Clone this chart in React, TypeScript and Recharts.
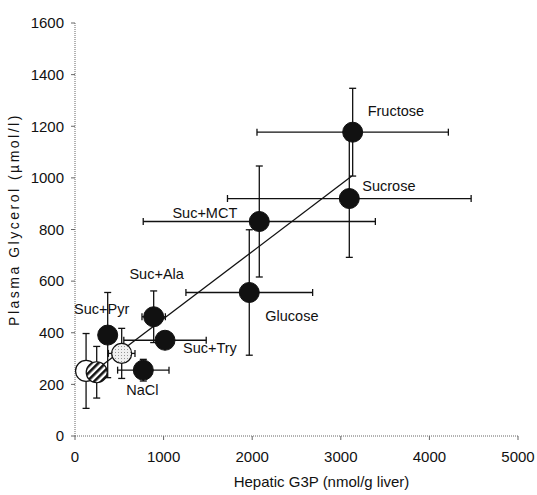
import React from 'react';
import {
  ScatterChart,
  Scatter,
  XAxis,
  YAxis,
  ErrorBar,
  LabelList,
  ReferenceLine,
} from 'recharts';

// ---- Data ----
const sugarLabels = ['Fructose', 'Sucrose', 'Suc+MCT', 'Glucose', 'Suc+Ala', 'Suc+Try', 'Suc+Pyr', 'NaCl'];
const sugarG3P = [3134, 3096, 2080, 1967, 888, 1016, 369, 771];
const sugarG3PErr = [1080, 1375, 1310, 715, 132, 465, 60, 290];
const sugarGlycerol = [1177, 920, 831, 556, 462, 371, 391, 255];
const sugarGlycerolErr = [170, 228, 215, 243, 100, 30, 165, 42];

const openG3P = [125];
const openG3PErr = [0];
const openGlycerol = [252];
const openGlycerolErr = [145];

const hatchedG3P = [245];
const hatchedG3PErr = [70];
const hatchedGlycerol = [247];
const hatchedGlycerolErr = [100];

const dottedG3P = [527];
const dottedG3PErr = [150];
const dottedGlycerol = [320];
const dottedGlycerolErr = [97];

const regressionX = [280, 3125];
const regressionY = [267, 1007];

const xTicks = [0, 1000, 2000, 3000, 4000, 5000];
const yTicks = [0, 200, 400, 600, 800, 1000, 1200, 1400, 1600];

const xTitle = 'Hepatic G3P (nmol/g liver)';
const yTitle = 'Plasma Glycerol (µmol/l)';

// ---- Build tables ----
const build = (xs: number[], xe: number[], ys: number[], ye: number[], names?: string[]) =>
  xs.map((x, i) => ({ x, y: ys[i], xe: xe[i], ye: ye[i], name: names ? names[i] : '' }));

const sugarData = build(sugarG3P, sugarG3PErr, sugarGlycerol, sugarGlycerolErr, sugarLabels);
const openData = build(openG3P, openG3PErr, openGlycerol, openGlycerolErr);
const hatchedData = build(hatchedG3P, hatchedG3PErr, hatchedGlycerol, hatchedGlycerolErr);
const dottedData = build(dottedG3P, dottedG3PErr, dottedGlycerol, dottedGlycerolErr);

// ---- Styles ----
const FONT = '"Liberation Sans", Arial, sans-serif';
const INK = '#111';
const AXIS = '#666';

const labelOffsets: Record<string, { dx: number; dy: number; anchor: 'start' | 'middle' | 'end' }> = {
  Fructose: { dx: 15, dy: -21, anchor: 'start' },
  Sucrose: { dx: 13, dy: -13, anchor: 'start' },
  'Suc+MCT': { dx: -22, dy: -9, anchor: 'end' },
  Glucose: { dx: 16, dy: 23, anchor: 'start' },
  'Suc+Ala': { dx: 3, dy: -43, anchor: 'middle' },
  'Suc+Try': { dx: 18, dy: 8, anchor: 'start' },
  'Suc+Pyr': { dx: -6, dy: -26, anchor: 'middle' },
  NaCl: { dx: -1, dy: 20, anchor: 'middle' },
};

const BlackDot = (p: any) => <circle cx={p.cx} cy={p.cy} r={10} fill={INK} stroke={INK} strokeWidth={1} />;
const OpenDot = (p: any) => <circle cx={p.cx} cy={p.cy} r={10.5} fill="#fff" stroke={INK} strokeWidth={1.2} />;
const DottedDot = (p: any) => (
  <g>
    <defs>
      <pattern id="stipple" width="3" height="3" patternUnits="userSpaceOnUse">
        <rect width="3" height="3" fill="#f0f0f0" />
        <rect x="1" y="1" width="1" height="1" fill="#999" />
      </pattern>
    </defs>
    <circle cx={p.cx} cy={p.cy} r={10} fill="url(#stipple)" stroke={INK} strokeWidth={1.2} />
  </g>
);
const HatchedDot = (p: any) => (
  <g>
    <defs>
      <pattern id="hatch" width="5" height="5" patternUnits="userSpaceOnUse" patternTransform="rotate(45)">
        <rect width="5" height="5" fill="#fff" />
        <rect width="2.6" height="5" fill={INK} />
      </pattern>
    </defs>
    <circle cx={p.cx} cy={p.cy} r={10.5} fill="url(#hatch)" stroke={INK} strokeWidth={1.2} />
  </g>
);

const PointLabel = (props: any) => {
  const { x, y, width, height, value } = props;
  const o = labelOffsets[value];
  if (!o) return null;
  const cx = x + (width || 0) / 2;
  const cy = y + (height || 0) / 2;
  return (
    <text x={cx + o.dx} y={cy + o.dy} dy="0.35em" textAnchor={o.anchor} fontFamily={FONT} fontSize={14.5} fill={INK}>
      {value}
    </text>
  );
};

const XTitle = (props: any) => {
  const vb = props.viewBox || { x: 0, y: 0, width: 0, height: 0 };
  const x = vb.x + vb.width / 2 + 25;
  const y = vb.y + vb.height - 8;
  return (
    <text x={x} y={y} textAnchor="middle" fontFamily={FONT} fontSize={15} fill={INK}>
      {xTitle}
    </text>
  );
};

const YTitle = (props: any) => {
  const vb = props.viewBox || { x: 0, y: 0, width: 0, height: 0 };
  const x = vb.x + 14;
  const y = vb.y + vb.height / 2 - 10;
  return (
    <text
      x={x}
      y={y}
      transform={`rotate(-90, ${x}, ${y})`}
      textAnchor="middle"
      dy="0.35em"
      fontFamily={FONT}
      fontSize={14}
      letterSpacing={2.5}
      fill={INK}
    >
      {yTitle}
    </text>
  );
};

const errProps = { stroke: INK, strokeWidth: 1.3, width: 3.5 } as const;

export default function App() {
  return (
    <div style={{ position: 'absolute', left: 0, top: 0, background: '#fff' }}>
      <ScatterChart width={537} height={495} margin={{ top: 23, right: 19, bottom: 0, left: 0 }}>
        <XAxis
          type="number"
          dataKey="x"
          domain={[0, 5000]}
          ticks={xTicks}
          interval={0}
          height={59}
          tickSize={4}
          tickMargin={11}
          axisLine={{ stroke: AXIS, strokeDasharray: '1 1' }}
          tickLine={{ stroke: AXIS }}
          tick={{ fill: INK, fontSize: 15, fontFamily: FONT }}
          label={{ content: XTitle }}
        />
        <YAxis
          type="number"
          dataKey="y"
          domain={[0, 1600]}
          ticks={yTicks}
          interval={0}
          width={75}
          tickSize={4}
          tickMargin={7}
          axisLine={{ stroke: AXIS, strokeDasharray: '1 1' }}
          tickLine={{ stroke: AXIS }}
          tick={{ fill: INK, fontSize: 15, fontFamily: FONT }}
          label={{ content: YTitle }}
        />
        <ReferenceLine
          segment={[
            { x: regressionX[0], y: regressionY[0] },
            { x: regressionX[1], y: regressionY[1] },
          ]}
          stroke={INK}
          strokeWidth={1.3}
        />
        <Scatter data={openData} shape={OpenDot} isAnimationActive={false}>
          <ErrorBar dataKey="ye" direction="y" {...errProps} />
        </Scatter>
        <Scatter data={hatchedData} shape={HatchedDot} isAnimationActive={false}>
          <ErrorBar dataKey="xe" direction="x" {...errProps} />
          <ErrorBar dataKey="ye" direction="y" {...errProps} />
        </Scatter>
        <Scatter data={dottedData} shape={DottedDot} isAnimationActive={false}>
          <ErrorBar dataKey="xe" direction="x" {...errProps} />
          <ErrorBar dataKey="ye" direction="y" {...errProps} />
        </Scatter>
        <Scatter data={sugarData} shape={BlackDot} isAnimationActive={false}>
          <ErrorBar dataKey="xe" direction="x" {...errProps} />
          <ErrorBar dataKey="ye" direction="y" {...errProps} />
          <LabelList dataKey="name" content={PointLabel} />
        </Scatter>
      </ScatterChart>
    </div>
  );
}
